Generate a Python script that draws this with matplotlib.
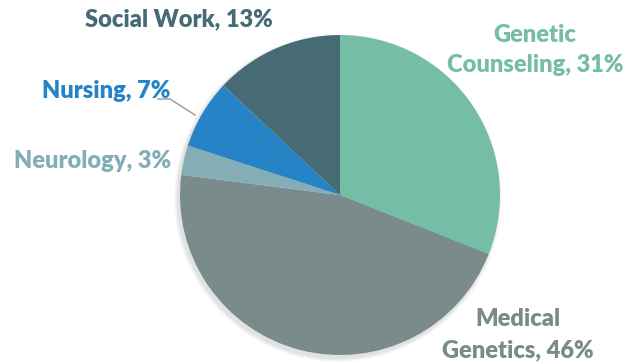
import matplotlib
matplotlib.use("Agg")
import matplotlib.pyplot as plt
from matplotlib.patches import Circle

# Share of respondents by profession
categories = ["Genetic\nCounseling", "Medical\nGenetics", "Neurology", "Nursing", "Social Work"]
shares = [31, 46, 3, 7, 13]
colors = ["#75BDA7", "#7A8B8C", "#84ADB6", "#2683C6", "#466B74"]

W, H = 642, 362
fig = plt.figure(figsize=(W / 100, H / 100), dpi=100)
ax = fig.add_axes([0, 0, 1, 1])

cx, cy, r = 340, H - 195, 160

# soft drop shadow under the pie
for i, a in enumerate([0.025, 0.025, 0.03, 0.035]):
    ax.add_patch(Circle((cx - 2, cy - 3), r + 4 - i, color="black", alpha=a, lw=0, zorder=0))

wedges, _ = ax.pie(shares, colors=colors, startangle=90, counterclock=False,
                   center=(cx, cy), radius=r, frame=True,
                   wedgeprops=dict(linewidth=0))
ax.set_xlim(0, W)
ax.set_ylim(0, H)
ax.set_aspect("equal")
ax.axis("off")

font = dict(family=["Lato", "DejaVu Sans"], fontweight="heavy", fontsize=17,
            ha="center", va="center", linespacing=1.5)

label_pos = [(535, 50), (518, 335), (93, 161), (106, 91), (179, 19)]
for name, val, col, (x, y) in zip(categories, shares, colors, label_pos):
    ax.text(x, H - y, f"{name}, {val}%", color=col, **font)

# leader line for the small Nursing slice
ax.plot([158, 170, 195], [H - 99, H - 99, H - 115], color="#A6A6A6", lw=1.2,
        zorder=3, solid_joinstyle="miter")

fig.savefig("out.png", dpi=100)
